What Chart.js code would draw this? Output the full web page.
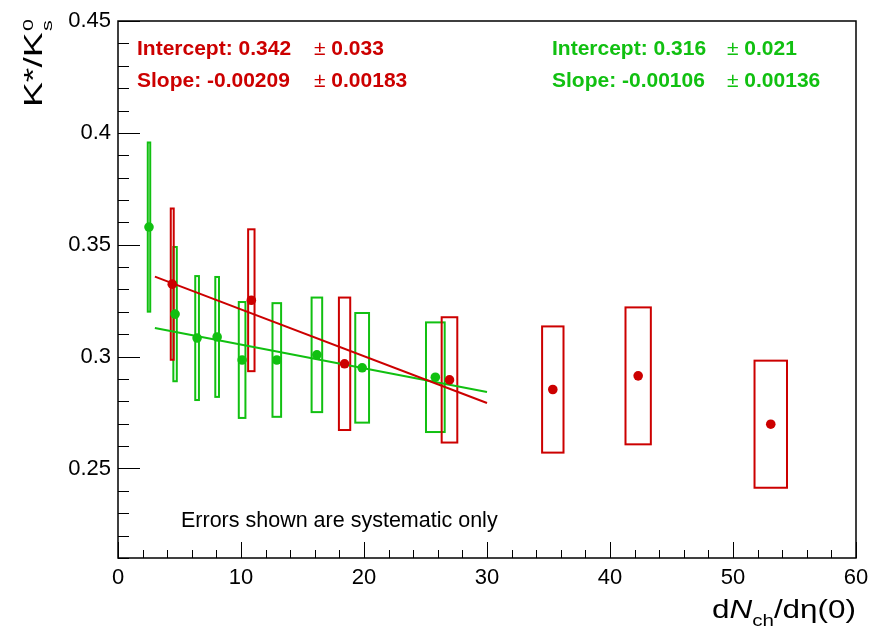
<!DOCTYPE html>
<html>
<head>
<meta charset="utf-8">
<script src="https://cdn.jsdelivr.net/npm/chart.js@4.4.0/dist/chart.umd.min.js"></script>
<style>
  html, body { margin: 0; padding: 0; background: #fff; }
  canvas { display: block; }
</style>
</head>
<body>
<canvas id="c" width="872" height="629"></canvas>
<script>
// K*/K0s ratio versus dNch/deta; boxes are the systematic uncertainties.
const redX    = [4.41, 10.84, 18.42, 26.95, 35.35, 42.29, 53.07];
const redY    = [0.3324, 0.3252, 0.2968, 0.2896, 0.2853, 0.2914, 0.2698];
const redSysY = [0.0338, 0.0317, 0.0296, 0.0280, 0.0282, 0.0306, 0.0284];
const redSysX = [0.12, 0.26, 0.46, 0.635, 0.87, 1.03, 1.32];

const greenX    = [2.52, 4.64, 6.43, 8.06, 10.09, 12.91, 16.17, 19.85, 25.80];
const greenY    = [0.3579, 0.3190, 0.3083, 0.3088, 0.2985, 0.2985, 0.3008, 0.2950, 0.2908];
const greenSysY = [0.0378, 0.0300, 0.0277, 0.0268, 0.0259, 0.0254, 0.0256, 0.0245, 0.0245];
const greenSysX = [0.10, 0.14, 0.15, 0.15, 0.27, 0.35, 0.43, 0.56, 0.76];

// linear fits: [intercept, intercept error, slope, slope error]
const redFit   = [0.342, 0.033, -0.00209, 0.00183];
const greenFit = [0.316, 0.021, -0.00106, 0.00136];
const fitRange = [3, 30];

const xTickValues = [0, 10, 20, 30, 40, 50, 60];
const yTickValues = [0.25, 0.3, 0.35, 0.4, 0.45];
const yTickLabels = ['0.25', '0.3', '0.35', '0.4', '0.45'];

const noteText = 'Errors shown are systematic only';

const RED = '#cc0000';
const GREEN = '#11c011';
const FONT = '"Liberation Sans", Arial, Helvetica, sans-serif';

const toPoints = (xs, ys) => xs.map((x, i) => ({ x: x, y: ys[i] }));
const fitLine = f => fitRange.map(x => ({ x: x, y: f[0] + f[2] * x }));

// systematic boxes, frame and inward ticks, text annotations
const decorations = {
  id: 'decorations',
  beforeDatasetsDraw(chart) {
    const c = chart.ctx, xs = chart.scales.x, ys = chart.scales.y;
    const boxes = (xv, yv, ex, ey, col) => {
      c.save();
      c.strokeStyle = col;
      c.lineWidth = 2;
      xv.forEach((x, i) => {
        const l = xs.getPixelForValue(x - ex[i]);
        const r = xs.getPixelForValue(x + ex[i]);
        const t = ys.getPixelForValue(yv[i] + ey[i]);
        const b = ys.getPixelForValue(yv[i] - ey[i]);
        c.strokeRect(l, t, r - l, b - t);
      });
      c.restore();
    };
    boxes(greenX, greenY, greenSysX, greenSysY, GREEN);
    boxes(redX, redY, redSysX, redSysY, RED);
  },
  afterDraw(chart) {
    const c = chart.ctx, a = chart.chartArea, xs = chart.scales.x, ys = chart.scales.y;
    c.save();
    // frame
    c.strokeStyle = '#000';
    c.lineWidth = 1.5;
    c.strokeRect(a.left, a.top, a.right - a.left, a.bottom - a.top);
    // ticks drawn inward from the left and bottom axes
    c.lineWidth = 1;
    c.beginPath();
    for (let k = 0; k <= 30; k++) {
      const v = k * 2;
      const px = Math.round(xs.getPixelForValue(v)) + 0.5;
      const len = (v % 10 === 0) ? 16 : 8;
      c.moveTo(px, a.bottom);
      c.lineTo(px, a.bottom - len);
    }
    for (let k = 21; k <= 45; k++) {
      const v = k / 100;
      const py = Math.round(ys.getPixelForValue(v)) + 0.5;
      const len = (k % 5 === 0) ? 22 : 11;
      c.moveTo(a.left, py);
      c.lineTo(a.left + len, py);
    }
    c.stroke();

    // fit results
    const fitText = (f, col, x0, x1) => {
      c.fillStyle = col;
      c.textBaseline = 'alphabetic';
      c.textAlign = 'left';
      const row = (label, err, y) => {
        c.font = `bold 21px ${FONT}`;
        c.fillText(label, x0, y);
        c.font = `21px ${FONT}`;
        c.fillText('\u00b1', x1, y);
        const pw = c.measureText('\u00b1 ').width;
        c.font = `bold 21px ${FONT}`;
        c.fillText(String(err), x1 + pw, y);
      };
      row('Intercept: ' + f[0], f[1], 55);
      row('Slope: ' + f[2], f[3], 87);
    };
    fitText(redFit, RED, 137, 314);
    fitText(greenFit, GREEN, 552, 727);

    // note
    c.fillStyle = '#000';
    c.font = `21.5px ${FONT}`;
    c.fillText(noteText, 181, 527);

    // x axis title: dN_ch/deta(0), right aligned with the frame
    {
      const big = `26px ${FONT}`, bigI = `italic 26px ${FONT}`, small = `17px ${FONT}`;
      const parts = [
        ['d', big, 0], ['N', bigI, 0], ['ch', small, 8], ['/d\u03b7(0)', big, 0]
      ];
      let natural = 0;
      parts.forEach(p => { c.font = p[1]; natural += c.measureText(p[0]).width; });
      const target = 144;
      const sx = target / natural;
      c.save();
      c.translate(a.right - target, 618);
      c.scale(sx, 1);
      let x = 0;
      parts.forEach(p => { c.font = p[1]; c.fillText(p[0], x, p[2]); x += c.measureText(p[0]).width; });
      c.restore();
    }

    // y axis title: K*/K^0_s, rotated
    {
      const big = `26px ${FONT}`, small = `15px ${FONT}`;
      c.font = big;
      const w = c.measureText('K*/K').width;
      c.font = small;
      const sw = Math.max(c.measureText('0').width, c.measureText('s').width);
      const sx = 88 / (w + 1 + sw);
      c.save();
      c.translate(42, 107);
      c.rotate(-Math.PI / 2);
      c.scale(sx, 1);
      c.font = big;
      c.fillText('K*/K', 0, 0);
      c.font = small;
      c.fillText('0', w + 1, -9);
      c.fillText('s', w + 1, 10);
      c.restore();
    }
    c.restore();
  }
};

new Chart(document.getElementById('c'), {
  type: 'scatter',
  data: {
    datasets: [
      { type: 'line', data: fitLine(greenFit), borderColor: GREEN, borderWidth: 2, pointRadius: 0, order: 3 },
      { type: 'line', data: fitLine(redFit), borderColor: RED, borderWidth: 2, pointRadius: 0, order: 2 },
      { data: toPoints(greenX, greenY), backgroundColor: GREEN, borderWidth: 0, pointRadius: 4.8, order: 1 },
      { data: toPoints(redX, redY), backgroundColor: RED, borderWidth: 0, pointRadius: 4.8, order: 0 }
    ]
  },
  options: {
    responsive: false,
    animation: false,
    devicePixelRatio: 1,
    layout: { padding: { top: 21, right: 0, left: 0, bottom: 0 } },
    plugins: { legend: { display: false }, tooltip: { enabled: false } },
    scales: {
      x: {
        type: 'linear', min: 0, max: 60,
        grid: { display: false, drawTicks: false },
        border: { display: false },
        ticks: { font: { family: FONT, size: 22 }, color: '#000', padding: 7, maxRotation: 0,
                 callback: v => String(v) },
        afterBuildTicks: s => { s.ticks = xTickValues.map(v => ({ value: v })); },
        afterFit: s => { s.height = 629 - 558; s.paddingRight = 16; }
      },
      y: {
        type: 'linear', min: 0.21, max: 0.45,
        grid: { display: false, drawTicks: false },
        border: { display: false },
        ticks: { font: { family: FONT, size: 22 }, color: '#000', padding: 7,
                 callback: (v, i) => yTickLabels[i] },
        afterBuildTicks: s => { s.ticks = yTickValues.map(v => ({ value: v })); },
        afterFit: s => { s.width = 118; }
      }
    }
  },
  plugins: [decorations]
});
</script>
</body>
</html>
